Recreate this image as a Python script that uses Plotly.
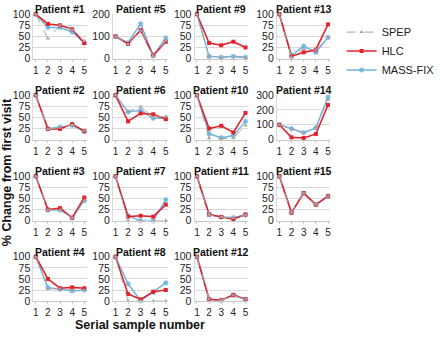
import plotly.graph_objects as go

serial = [1, 2, 3, 4, 5]
tick_labels = ["1", "2", "3", "4", "5"]

# Values: % change from first visit
spep_p1 = [100, 45, 75, 65, 40]
hlc_p1 = [100, 78, 75, 66, 35]
mfx_p1 = [100, 70, 70, 60, 35]

spep_p2 = [100, 24, 27, 33, 20]
hlc_p2 = [100, 24, 24, 35, 19]
mfx_p2 = [100, 25, 28, 32, 18]

spep_p3 = [100, 24, 24, 6, 45]
hlc_p3 = [100, 25, 28, 6, 52]
mfx_p3 = [100, 24, 24, 7, 45]

spep_p4 = [100, 28, 28, 25, 25]
hlc_p4 = [100, 50, 29, 31, 29]
mfx_p4 = [100, 30, 27, 23, 25]

spep_p5 = [100, 65, 125, 12, 80]
hlc_p5 = [100, 66, 128, 14, 76]
mfx_p5 = [100, 72, 157, 14, 93]

spep_p6 = [100, 64, 74, 50, 52]
hlc_p6 = [100, 41, 59, 57, 46]
mfx_p6 = [100, 62, 66, 48, 48]

spep_p7 = [100, 0, 0, 0, 0]
hlc_p7 = [100, 9, 11, 9, 36]
mfx_p7 = [100, 11, 0, 0, 47]

spep_p8 = [100, 0, 0, 0, 0]
hlc_p8 = [100, 16, 4, 21, 25]
mfx_p8 = [100, 39, 1, 20, 41]

spep_p9 = [100, 3, 2, 3, 2]
hlc_p9 = [100, 35, 30, 38, 25]
mfx_p9 = [100, 5, 3, 5, 3]

spep_p10 = [100, 3, 2, 3, 32]
hlc_p10 = [100, 25, 31, 16, 60]
mfx_p10 = [100, 13, 4, 9, 41]

spep_p11 = [100, 13, 8, 6, 13]
hlc_p11 = [100, 14, 8, 3, 14]
mfx_p11 = [100, 13, 8, 7, 12]

spep_p12 = [100, 4, 2, 13, 4]
hlc_p12 = [100, 4, 2, 14, 4]
mfx_p12 = [100, 4, 2, 13, 4]

spep_p13 = [100, 3, 22, 20, 45]
hlc_p13 = [100, 5, 14, 20, 77]
mfx_p13 = [100, 7, 28, 14, 48]

spep_p14 = [100, 70, 42, 80, 270]
hlc_p14 = [100, 15, 11, 38, 234]
mfx_p14 = [100, 74, 47, 79, 287]

spep_p15 = [100, 18, 62, 36, 55]
hlc_p15 = [100, 18, 62, 36, 55]
mfx_p15 = [100, 18, 62, 36, 55]

patients = [
    ("Patient #1", spep_p1, hlc_p1, mfx_p1, 0, 0, 100, 25),
    ("Patient #2", spep_p2, hlc_p2, mfx_p2, 0, 1, 100, 25),
    ("Patient #3", spep_p3, hlc_p3, mfx_p3, 0, 2, 100, 25),
    ("Patient #4", spep_p4, hlc_p4, mfx_p4, 0, 3, 100, 25),
    ("Patient #5", spep_p5, hlc_p5, mfx_p5, 1, 0, 200, 100),
    ("Patient #6", spep_p6, hlc_p6, mfx_p6, 1, 1, 100, 25),
    ("Patient #7", spep_p7, hlc_p7, mfx_p7, 1, 2, 100, 25),
    ("Patient #8", spep_p8, hlc_p8, mfx_p8, 1, 3, 100, 25),
    ("Patient #9", spep_p9, hlc_p9, mfx_p9, 2, 0, 100, 25),
    ("Patient #10", spep_p10, hlc_p10, mfx_p10, 2, 1, 100, 25),
    ("Patient #11", spep_p11, hlc_p11, mfx_p11, 2, 2, 100, 25),
    ("Patient #12", spep_p12, hlc_p12, mfx_p12, 2, 3, 100, 25),
    ("Patient #13", spep_p13, hlc_p13, mfx_p13, 3, 0, 100, 25),
    ("Patient #14", spep_p14, hlc_p14, mfx_p14, 3, 1, 300, 100),
    ("Patient #15", spep_p15, hlc_p15, mfx_p15, 3, 2, 100, 25),
]

W, H = 440, 337
xcols = [(36.4, 94.7), (123.3, 183.8), (212.4, 270.7), (302.3, 360.8)]
yrows = [(8.5, 54.5), (92.5, 138.5), (176.5, 222.5), (260, 306)]

FONT = "Arial, Liberation Sans, sans-serif"
RED = "#e3232b"
BLUE = "#72b5e0"
GREY = "#a5a5a5"

fig = go.Figure()
layout = dict(
    width=W, height=H,
    margin=dict(l=0, r=0, t=0, b=0),
    paper_bgcolor="white", plot_bgcolor="white",
    font=dict(family=FONT, size=10, color="#222"),
    showlegend=True,
    legend=dict(x=373 / W, y=1 - 12 / H, xanchor="left", yanchor="top",
                font=dict(size=11, color="#222"), bgcolor="rgba(0,0,0,0)",
                tracegroupgap=0, itemwidth=30),
)
annotations = []

for i, (name, sp, hl, mf, c, r, ymax, dt) in enumerate(patients):
    idx = i + 1
    xa = "x" if idx == 1 else f"x{idx}"
    ya = "y" if idx == 1 else f"y{idx}"
    x0, x1 = xcols[c]
    t, b = yrows[r]
    layout[f"xaxis{'' if idx == 1 else idx}"] = dict(
        domain=[x0 / W, x1 / W], anchor=ya, range=[0.8, 5.2],
        tickvals=serial, ticktext=tick_labels, showgrid=False,
        showline=True, linecolor="#c8c8c8", linewidth=1,
        ticks="outside", ticklen=2, tickcolor="#c8c8c8",
        tickfont=dict(size=10, color="#222"), zeroline=False, fixedrange=True,
    )
    layout[f"yaxis{'' if idx == 1 else idx}"] = dict(
        domain=[1 - b / H, 1 - t / H], anchor=xa, range=[0, ymax],
        dtick=dt, tick0=0, showgrid=True, gridcolor="#d9d9d9", gridwidth=1,
        showline=True, linecolor="#d9d9d9", linewidth=1, ticks="",
        tickfont=dict(size=10.5, color="#222"), zeroline=False, fixedrange=True,
    )
    annotations.append(dict(
        text=f"<b>{name}</b>", x=(x0 + x1) / 2 / W, y=1 - t / H,
        xref="paper", yref="paper", xanchor="center", yanchor="bottom",
        showarrow=False, font=dict(size=10.5, color="#111"), yshift=-3,
    ))
    show = idx == 1
    fig.add_trace(go.Scatter(
        x=serial, y=mf, xaxis=xa, yaxis=ya, name="MASS-FIX", legendrank=3,
        mode="lines+markers", line=dict(color=BLUE, width=1.5),
        marker=dict(symbol="asterisk-open", size=4.5, color=BLUE, line=dict(width=1.1, color=BLUE)),
        showlegend=show, cliponaxis=False,
    ))
    fig.add_trace(go.Scatter(
        x=serial, y=hl, xaxis=xa, yaxis=ya, name="HLC", legendrank=2,
        mode="lines+markers", line=dict(color=RED, width=1.6),
        marker=dict(symbol="square", size=4, color=RED),
        showlegend=show, cliponaxis=False,
    ))
    fig.add_trace(go.Scatter(
        x=serial, y=sp, xaxis=xa, yaxis=ya, name="SPEP", legendrank=1,
        mode="lines+markers", line=dict(color=GREY, width=1, dash="dash"),
        marker=dict(symbol="triangle-up", size=4, color=GREY),
        showlegend=show, cliponaxis=False,
    ))

annotations.append(dict(
    text="<b>% Change from first visit</b>", x=8 / W, y=1 - 172 / H,
    xref="paper", yref="paper", xanchor="center", yanchor="middle",
    textangle=-90, showarrow=False, font=dict(size=12.5, color="#111"),
))
annotations.append(dict(
    text="<b>Serial sample number</b>", x=153 / W, y=0,
    xref="paper", yref="paper", xanchor="center", yanchor="bottom",
    showarrow=False, font=dict(size=12.5, color="#111"), yshift=-3,
))
layout["annotations"] = annotations
fig.update_layout(**layout)
fig.write_html("out.html")
